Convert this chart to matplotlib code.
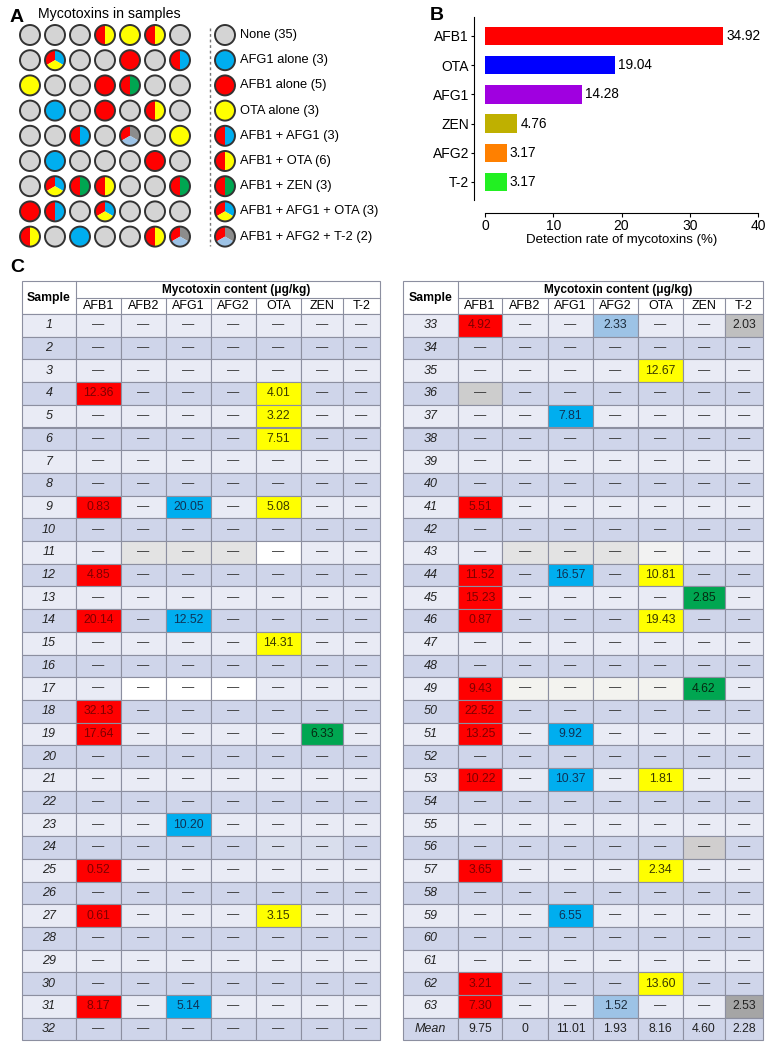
import matplotlib
matplotlib.use("Agg")
import matplotlib.pyplot as plt
from matplotlib.patches import Circle, Wedge, Rectangle

plt.rcParams['font.family'] = ['Liberation Sans', 'DejaVu Sans']

## ---- data ----
# panel A: one code per sample, 9 rows x 7 columns
grid = [
    ['none', 'none', 'none', 'B1+O', 'O', 'B1+O', 'none'],
    ['none', 'B1+G1+O', 'none', 'none', 'B1', 'none', 'B1+G1'],
    ['O', 'none', 'none', 'B1', 'B1+Z', 'none', 'none'],
    ['none', 'G1', 'none', 'B1', 'none', 'B1+O', 'none'],
    ['none', 'none', 'B1+G1', 'none', 'B1+G2+T2', 'none', 'O'],
    ['none', 'G1', 'none', 'none', 'none', 'B1', 'none'],
    ['none', 'B1+G1+O', 'B1+Z', 'B1+O', 'none', 'none', 'B1+Z'],
    ['B1', 'B1+G1', 'none', 'B1+G1+O', 'none', 'none', 'none'],
    ['B1+O', 'none', 'G1', 'none', 'none', 'B1+O', 'B1+G2+T2'],
]
legend_keys = ['none', 'G1', 'B1', 'O', 'B1+G1', 'B1+O', 'B1+Z', 'B1+G1+O', 'B1+G2+T2']
legend_names = ['None', 'AFG1 alone', 'AFB1 alone', 'OTA alone', 'AFB1 + AFG1',
                'AFB1 + OTA', 'AFB1 + ZEN', 'AFB1 + AFG1 + OTA', 'AFB1 + AFG2 + T-2']
legend_counts = [35, 3, 5, 3, 3, 6, 3, 3, 2]

# panel B
b_toxins = ['AFB1', 'OTA', 'AFG1', 'ZEN', 'AFG2', 'T-2']
b_rates = [34.92, 19.04, 14.28, 4.76, 3.17, 3.17]

# panel C
toxins = ['AFB1', 'AFB2', 'AFG1', 'AFG2', 'OTA', 'ZEN', 'T-2']
afb1 = {4: 12.36, 9: 0.83, 12: 4.85, 14: 20.14, 18: 32.13, 19: 17.64, 25: 0.52,
        27: 0.61, 31: 8.17, 33: 4.92, 41: 5.51, 44: 11.52, 45: 15.23, 46: 0.87,
        49: 9.43, 50: 22.52, 51: 13.25, 53: 10.22, 57: 3.65, 62: 3.21, 63: 7.30}
afb2 = {}
afg1 = {9: 20.05, 14: 12.52, 23: 10.20, 31: 5.14, 37: 7.81, 44: 16.57, 51: 9.92,
        53: 10.37, 59: 6.55}
afg2 = {33: 2.33, 63: 1.52}
ota = {4: 4.01, 5: 3.22, 6: 7.51, 9: 5.08, 15: 14.31, 27: 3.15, 35: 12.67,
       44: 10.81, 46: 19.43, 53: 1.81, 57: 2.34, 62: 13.60}
zen = {19: 6.33, 45: 2.85, 49: 4.62}
t2 = {33: 2.03, 63: 2.53}
means = ['9.75', '0', '11.01', '1.93', '8.16', '4.60', '2.28']
left_samples = list(range(1, 33))
right_samples = list(range(33, 64))

## ---- styles ----
RED, BLUE, YEL, GRN = '#FF0000', '#00AEEF', '#FFFF00', '#00A651'
LBLUE, DGRAY, NONE = '#9DC3E6', '#8C8C8C', '#D4D4D4'
combo_colors = {
    'none': [NONE], 'G1': [BLUE], 'B1': [RED], 'O': [YEL],
    'B1+G1': [RED, BLUE], 'B1+O': [RED, YEL], 'B1+Z': [RED, GRN],
    'B1+G1+O': [RED, BLUE, YEL], 'B1+G2+T2': [RED, DGRAY, LBLUE],
}
b_colors = ['#FF0000', '#0000FF', '#A000E0', '#BFB000', '#FF8000', '#22F022']

tox_data = dict(zip(toxins, [afb1, afb2, afg1, afg2, ota, zen, t2]))
tox_bg = {'AFB1': RED, 'AFB2': RED, 'AFG1': BLUE, 'AFG2': LBLUE,
          'OTA': YEL, 'ZEN': GRN, 'T-2': '#B0B0B0'}
tox_fg = {'AFB1': '#7F0000', 'AFB2': '#7F0000', 'AFG1': '#0F3357', 'AFG2': '#1C2C3C',
          'OTA': '#3A3A00', 'ZEN': '#062A12', 'T-2': '#222222'}
# odd cell shades seen in the table
shade = {(11, 'AFB2'): '#E3E3E3', (11, 'AFG1'): '#E3E3E3', (11, 'AFG2'): '#E3E3E3',
         (11, 'OTA'): '#FFFFFF', (17, 'AFB2'): '#FFFFFF', (17, 'AFG1'): '#FFFFFF',
         (17, 'AFG2'): '#FFFFFF', (24, 'OTA'): '#D9DEED', (24, 'ZEN'): '#D9DEED',
         (36, 'AFB1'): '#CDCDCD', (43, 'AFB2'): '#E3E3E3', (43, 'AFG1'): '#E3E3E3',
         (43, 'AFG2'): '#E3E3E3', (43, 'OTA'): '#F2F2F2', (49, 'AFB2'): '#F3F3EF',
         (49, 'AFG1'): '#F3F3EF', (49, 'AFG2'): '#F3F3EF', (49, 'OTA'): '#F3F3EF',
         (56, 'ZEN'): '#D0CECE', (33, 'T-2'): '#BFBFBF', (63, 'T-2'): '#A5A5A5'}
LIGHT, DARK = '#E9EBF5', '#CFD5EA'
LINE = '#8C8FA0'

fig = plt.figure(figsize=(7.67, 10.43), dpi=100)
ax = fig.add_axes([0, 0, 1, 1])
ax.set_xlim(0, 767)
ax.set_ylim(1043, 0)
ax.axis('off')


def draw_dot(x, y, cols, r=10):
    n = len(cols)
    if n == 1:
        ax.add_patch(Circle((x, y), r, fc=cols[0], ec='none'))
    elif n == 2:
        ax.add_patch(Wedge((x, y), r, 90, 270, fc=cols[0], ec='none'))
        ax.add_patch(Wedge((x, y), r, 270, 450, fc=cols[1], ec='none'))
    else:
        # y axis is flipped, so angles run clockwise on screen
        ax.add_patch(Wedge((x, y), r, 150, 270, fc=cols[0], ec='none'))
        ax.add_patch(Wedge((x, y), r, 270, 390, fc=cols[1], ec='none'))
        ax.add_patch(Wedge((x, y), r, 30, 150, fc=cols[2], ec='none'))
    ax.add_patch(Circle((x, y), r, fill=False, ec='#333333', lw=1.4))


## ---- panel A ----
ax.text(10, 18, 'A', fontsize=14, fontweight='bold', va='center')
ax.text(38, 14, 'Mycotoxins in samples', fontsize=10.2, va='center')
for i, row in enumerate(grid):
    for j, code in enumerate(row):
        draw_dot(30 + 25 * j, 35 + 25.2 * i, combo_colors[code])

ax.plot([210, 210], [28, 246], color='#777777', lw=1, ls=(0, (2, 2)))
for i, (k, name, c) in enumerate(zip(legend_keys, legend_names, legend_counts)):
    yy = 35 + 25.2 * i
    draw_dot(225, yy, combo_colors[k])
    ax.text(240, yy, f'{name} ({c})', fontsize=9.3, va='center')

## ---- panel B ----
ax.text(430, 15, 'B', fontsize=14, fontweight='bold', va='center')
axb = fig.add_axes([485 / 767, 1 - 200 / 1043, 273 / 767, 183 / 1043])
bars = axb.barh(range(len(b_toxins)), b_rates, height=0.63, color=b_colors)
axb.bar_label(bars, labels=[f'{v:.2f}' for v in b_rates], padding=2, fontsize=9.8)
axb.set_ylim(5.62, -0.65)
axb.set_xlim(0, 40)
axb.set_yticks(range(len(b_toxins)))
axb.set_yticklabels(b_toxins, fontsize=9.8)
axb.set_xticks([0, 10, 20, 30, 40])
axb.tick_params(axis='x', labelsize=10, length=3, pad=1)
axb.tick_params(axis='y', length=2.5, pad=1)
axb.spines['top'].set_visible(False)
axb.spines['right'].set_visible(False)
# offsets are in points: about 11 px and 13 px
axb.spines['left'].set_position(('outward', 8))
axb.spines['bottom'].set_position(('outward', 9.4))
axb.set_xlabel('Detection rate of mycotoxins (%)', fontsize=9.5, labelpad=1)
axb.patch.set_alpha(0)

## ---- panel C ----
ax.text(10, 268, 'C', fontsize=14, fontweight='bold', va='center')
TOP, HEAD, RH = 281, 33, 22.7


def draw_table(x0, widths, samples, mean_row=None):
    xs = [x0]
    for w in widths:
        xs.append(xs[-1] + w)
    rows = list(samples) + (['Mean'] if mean_row else [])
    y0 = TOP + HEAD
    # header
    ax.add_patch(Rectangle((xs[0], TOP), xs[-1] - xs[0], HEAD, fc='white', ec=LINE, lw=0.8))
    ax.plot([xs[1], xs[1]], [TOP, y0], color=LINE, lw=0.8)
    ax.plot([xs[1], xs[-1]], [TOP + HEAD / 2, TOP + HEAD / 2], color=LINE, lw=0.8)
    ax.text((xs[0] + xs[1]) / 2, TOP + HEAD / 2, 'Sample', fontsize=8.8,
            fontweight='bold', ha='center', va='center')
    ax.text((xs[1] + xs[-1]) / 2 + 8, TOP + HEAD / 4 + 1, 'Mycotoxin content (μg/kg)',
            fontsize=8.6, fontweight='bold', ha='center', va='center')
    for j, tox in enumerate(toxins):
        if j > 0:
            ax.plot([xs[j + 1], xs[j + 1]], [TOP + HEAD / 2, y0], color=LINE, lw=0.8)
        ax.text((xs[j + 1] + xs[j + 2]) / 2, TOP + 3 * HEAD / 4, tox, fontsize=9,
                ha='center', va='center')
    # body
    for i, s in enumerate(rows):
        yt = y0 + i * RH
        yc = yt + RH / 2
        base = LIGHT if i % 2 == 0 else DARK
        ax.add_patch(Rectangle((xs[0], yt), widths[0], RH, fc=base, ec=LINE, lw=0.8))
        ax.text((xs[0] + xs[1]) / 2, yc, str(s), fontsize=9, style='italic',
                ha='center', va='center', color='#222222')
        for j, tox in enumerate(toxins):
            if s == 'Mean':
                fc, txt, tc = base, mean_row[j], '#222222'
            else:
                v = tox_data[tox].get(s)
                if v is None:
                    fc, txt, tc = shade.get((s, tox), base), '—', '#333333'
                else:
                    fc, txt, tc = shade.get((s, tox), tox_bg[tox]), f'{v:.2f}', tox_fg[tox]
            ax.add_patch(Rectangle((xs[j + 1], yt), widths[j + 1], RH, fc=fc,
                                   ec=LINE, lw=0.8))
            ax.text((xs[j + 1] + xs[j + 2]) / 2, yc, txt, fontsize=8.8,
                    ha='center', va='center', color=tc)


draw_table(22, [54, 45, 45, 45, 45, 45, 42, 37], left_samples)
draw_table(403, [55, 44, 46, 45, 45, 45, 42, 38], right_samples, means)

fig.savefig('out.png', dpi=100)
